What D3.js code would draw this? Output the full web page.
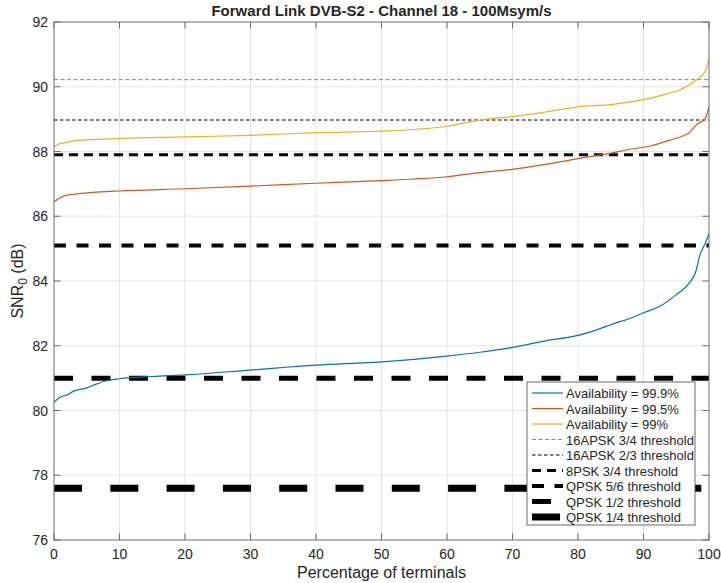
<!DOCTYPE html>
<meta charset="utf-8">
<head>
<script src="https://cdn.jsdelivr.net/npm/d3@7"></script>
</head>
<style>
  body { margin: 0; background: #fff; }
  text { font-family: "Liberation Sans", Arial, sans-serif; fill: #262626; }
</style>
<body>
<script>
// percentage of terminals / SNR0 for each availability
var pct999 = [0,0.5,1,2,3,4,5,6,8,10,15,20,30,40,50,60,65,70,75,80,83,85,88,90,92.5,95,97,98,98.6,99.4,100];
var snr999 = [80.25,80.35,80.42,80.48,80.6,80.65,80.7,80.78,80.92,80.98,81.05,81.1,81.25,81.4,81.5,81.68,81.8,81.95,82.15,82.32,82.5,82.65,82.85,83.02,83.22,83.58,83.94,84.3,84.8,85.15,85.45];
var pct995 = [0,0.5,1,2,3,5,7,10,20,30,40,50,55,60,65,70,75,80,85,88,91,94,96,97,98.2,99.4,100];
var snr995 = [86.45,86.52,86.58,86.65,86.68,86.72,86.75,86.78,86.85,86.93,87.02,87.1,87.15,87.22,87.35,87.45,87.6,87.78,87.95,88.07,88.17,88.35,88.48,88.58,88.85,89.0,89.4];
var pct99 = [0,0.5,1,2,3,5,10,20,30,40,50,55,60,63,66,70,75,80,85,90,93,95.5,98,99.4,100];
var snr99 = [88.15,88.2,88.25,88.28,88.33,88.36,88.4,88.45,88.5,88.58,88.63,88.68,88.78,88.9,89.0,89.08,89.22,89.38,89.45,89.6,89.75,89.9,90.2,90.47,90.85];

var curveNames = ["Availability = 99.9%", "Availability = 99.5%", "Availability = 99%"];
var curveColors = ["#0072BD", "#D95319", "#EDB120"];

var thrNames = ["16APSK 3/4 threshold", "16APSK 2/3 threshold", "8PSK 3/4 threshold",
                "QPSK 5/6 threshold", "QPSK 1/2 threshold", "QPSK 1/4 threshold"];
var thrValues = [90.22, 88.97, 87.9, 85.1, 81.0, 77.6];

var xTicks = [0,10,20,30,40,50,60,70,80,90,100];
var yTicks = [76,78,80,82,84,86,88,90,92];

// line styles for thresholds
var thrStyle = [
  {c: "#8a8a8a", w: 1,   d: "4,2.5"},
  {c: "#555",    w: 1.5, d: "3.5,2.5"},
  {c: "#000",    w: 3,   d: "9,6"},
  {c: "#000",    w: 4,   d: "12,10.5"},
  {c: "#000",    w: 5,   d: "19,18.5"},
  {c: "#000",    w: 7,   d: "28,28.3"}
];

var W = 721, H = 583;
var L = 54, R = 709, T = 22, B = 540;

var svg = d3.select("body").append("svg")
    .attr("width", W).attr("height", H);

var x = d3.scaleLinear().domain([0, 100]).range([L, R]);
var y = d3.scaleLinear().domain([76, 92]).range([B, T]);

// grid
svg.append("g").selectAll("line").data(xTicks.slice(1, -1)).enter().append("line")
    .attr("x1", d => x(d)).attr("x2", d => x(d)).attr("y1", T).attr("y2", B)
    .attr("stroke", "#e3e3e3").attr("stroke-width", 1);
svg.append("g").selectAll("line").data(yTicks.slice(1, -1)).enter().append("line")
    .attr("y1", d => y(d)).attr("y2", d => y(d)).attr("x1", L).attr("x2", R)
    .attr("stroke", "#e3e3e3").attr("stroke-width", 1);

svg.append("clipPath").attr("id", "clip").append("rect")
    .attr("x", L).attr("y", T).attr("width", R - L).attr("height", B - T);

var plot = svg.append("g").attr("clip-path", "url(#clip)");

// thresholds
plot.selectAll(".thr").data(thrValues).enter().append("line")
    .attr("class", "thr")
    .attr("x1", x(0)).attr("x2", x(100))
    .attr("y1", d => y(d)).attr("y2", d => y(d))
    .attr("stroke", (d, i) => thrStyle[i].c)
    .attr("stroke-width", (d, i) => thrStyle[i].w)
    .attr("stroke-dasharray", (d, i) => thrStyle[i].d);

// curves
var series = [[pct999, snr999], [pct995, snr995], [pct99, snr99]];
var line = d3.line().x(d => x(d[0])).y(d => y(d[1])).curve(d3.curveMonotoneX);
series.forEach(function(s, i) {
  plot.append("path")
      .datum(d3.zip(s[0], s[1]))
      .attr("d", line)
      .attr("fill", "none")
      .attr("stroke", curveColors[i])
      .attr("stroke-width", 1.2);
});

// axes box
var ax = svg.append("g");
ax.append("rect").attr("x", L).attr("y", T).attr("width", R - L).attr("height", B - T)
    .attr("fill", "none").attr("stroke", "#6b6b6b").attr("stroke-width", 1);

var tl = 6.5;
xTicks.forEach(function(t) {
  ax.append("line").attr("x1", x(t)).attr("x2", x(t)).attr("y1", B).attr("y2", B - tl)
      .attr("stroke", "#6b6b6b");
  ax.append("line").attr("x1", x(t)).attr("x2", x(t)).attr("y1", T).attr("y2", T + tl)
      .attr("stroke", "#6b6b6b");
  ax.append("text").attr("x", x(t)).attr("y", B + 19).attr("text-anchor", "middle")
      .attr("font-size", 14).text(t);
});
yTicks.forEach(function(t) {
  ax.append("line").attr("y1", y(t)).attr("y2", y(t)).attr("x1", L).attr("x2", L + tl)
      .attr("stroke", "#6b6b6b");
  ax.append("line").attr("y1", y(t)).attr("y2", y(t)).attr("x1", R).attr("x2", R - tl)
      .attr("stroke", "#6b6b6b");
  ax.append("text").attr("x", L - 6).attr("y", y(t) + 5).attr("text-anchor", "end")
      .attr("font-size", 14).text(t);
});

// title and labels
svg.append("text").attr("x", (L + R) / 2).attr("y", 16).attr("text-anchor", "middle")
    .attr("font-size", 15).attr("font-weight", "bold").text("Forward Link DVB-S2 - Channel 18 - 100Msym/s");
svg.append("text").attr("x", (L + R) / 2).attr("y", 578).attr("text-anchor", "middle")
    .attr("font-size", 16).text("Percentage of terminals");
var yl = svg.append("text").attr("transform", "translate(23," + ((T + B) / 2) + ") rotate(-90)")
    .attr("text-anchor", "middle").attr("font-size", 16);
yl.append("tspan").text("SNR");
yl.append("tspan").attr("font-size", 12).attr("dy", 4).text("0");
yl.append("tspan").attr("dy", -4).text(" (dB)");

// legend
var lx = 527, ly = 382, lw = 168, lh = 143;
var leg = svg.append("g");
leg.append("rect").attr("x", lx).attr("y", ly).attr("width", lw).attr("height", lh)
    .attr("fill", "#fff").attr("stroke", "#6b6b6b").attr("stroke-width", 1);

var items = curveNames.map((n, i) => ({name: n, c: curveColors[i], w: 1.2, d: null}))
  .concat(thrNames.map((n, i) => ({name: n, c: thrStyle[i].c, w: thrStyle[i].w, d: thrStyle[i].d})));
items.forEach(function(it, i) {
  var yy = ly + 11 + i * 15.5;
  leg.append("line").attr("x1", lx + 5).attr("x2", lx + 36).attr("y1", yy).attr("y2", yy)
      .attr("stroke", it.c).attr("stroke-width", it.w)
      .attr("stroke-dasharray", it.d);
  leg.append("text").attr("x", lx + 39).attr("y", yy + 5).attr("font-size", 13).text(it.name);
});
</script>
</body>
